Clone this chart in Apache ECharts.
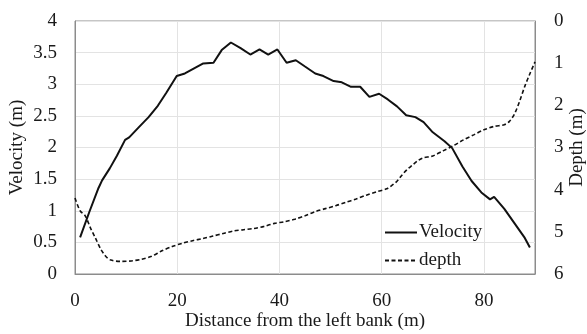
<!DOCTYPE html>
<html>
<head>
<meta charset="utf-8">
<script src="https://cdn.jsdelivr.net/npm/echarts@6/dist/echarts.min.js"></script>
<style>
  html, body { margin: 0; padding: 0; background: #fff; }
  #chart { width: 587px; height: 334px; }
</style>
</head>
<body>
<div id="chart"></div>
<script>
// Cross-section survey: surface velocity and water depth across the channel
const velocityDistance = [1.0, 2.8, 4.6, 5.3, 6.8, 8.2, 9.8, 10.6, 12.6, 14.4, 16.2, 17.9, 19.9, 21.5, 23.3, 25.1, 27.1, 28.7, 30.5, 32.4, 34.3, 36.1, 37.8, 39.6, 41.4, 43.2, 45.0, 47.0, 48.6, 50.6, 52.2, 54.0, 55.8, 57.6, 59.5, 61.2, 63.0, 64.8, 66.6, 68.2, 70.0, 72.3, 73.8, 75.8, 77.6, 79.5, 81.2, 82.0, 84.0, 86.0, 88.0, 89.0];
const velocity = [0.58, 0.98, 1.36, 1.48, 1.67, 1.87, 2.12, 2.16, 2.33, 2.48, 2.66, 2.87, 3.13, 3.17, 3.25, 3.33, 3.34, 3.54, 3.66, 3.57, 3.47, 3.55, 3.47, 3.55, 3.34, 3.38, 3.28, 3.17, 3.13, 3.05, 3.03, 2.96, 2.96, 2.80, 2.85, 2.76, 2.65, 2.51, 2.48, 2.40, 2.24, 2.10, 1.99, 1.70, 1.47, 1.29, 1.18, 1.22, 1.03, 0.80, 0.57, 0.42];

const depthDistance = [0, 1, 2, 3, 4, 5, 6, 7, 9, 11, 13, 15, 17, 19, 21, 23, 25, 27, 29, 31, 33, 35, 37, 39, 41, 43, 45, 47, 49, 51, 53, 55, 57, 59, 61, 62, 63, 64, 65, 66, 67, 68, 70, 72, 74, 76, 78, 80, 82, 84, 85, 86, 87, 88, 89, 90];
const depth = [4.20, 4.50, 4.62, 4.90, 5.15, 5.40, 5.58, 5.67, 5.70, 5.69, 5.65, 5.58, 5.45, 5.35, 5.27, 5.21, 5.16, 5.10, 5.04, 4.98, 4.95, 4.92, 4.87, 4.80, 4.76, 4.70, 4.62, 4.52, 4.45, 4.38, 4.30, 4.22, 4.13, 4.05, 3.98, 3.90, 3.80, 3.65, 3.52, 3.42, 3.32, 3.25, 3.20, 3.08, 2.96, 2.82, 2.70, 2.58, 2.50, 2.46, 2.38, 2.20, 1.90, 1.55, 1.25, 0.97];

const xTicks = [0, 20, 40, 60, 80];

const FONT = 'Liberation Serif';
const TXT = '#1a1a1a';

const pair = (xs, ys) => xs.map((x, i) => [x, ys[i]]);

const chart = echarts.init(document.getElementById('chart'), null, { renderer: 'canvas' });
chart.setOption({
  animation: false,
  backgroundColor: '#fff',
  textStyle: { fontFamily: FONT, color: TXT },
  grid: {
    left: 75, right: 52, top: 21, bottom: 60,
    containLabel: false, outerBoundsMode: 'none',
    show: true, borderColor: '#8c8c8c', borderWidth: 1
  },
  legend: {
    orient: 'vertical',
    left: 379, top: 218,
    itemWidth: 32, itemHeight: 12, itemGap: 9,
    itemStyle: { opacity: 0 },
    textStyle: { fontFamily: FONT, fontSize: 19, color: TXT, padding: [0, 0, 0, -3] },
    data: ['Velocity', 'depth']
  },
  xAxis: {
    type: 'value', min: 0, max: 90, interval: 20,
    name: 'Distance from the left bank (m)',
    nameLocation: 'middle', nameGap: 38, nameMoveOverlap: false,
    nameTextStyle: { fontFamily: FONT, fontSize: 19, color: TXT },
    axisLine: { show: true, lineStyle: { color: '#8c8c8c', width: 1 } },
    axisTick: { show: false },
    axisLabel: {
      fontFamily: FONT, fontSize: 19, color: TXT, margin: 18,
      formatter: v => (xTicks.indexOf(v) >= 0 ? String(v) : '')
    },
    splitLine: { show: true, lineStyle: { color: '#e3e3e3', width: 1 } }
  },
  yAxis: [
    {
      type: 'value', min: 0, max: 4, interval: 0.5,
      name: 'Velocity (m)', nameLocation: 'middle', nameGap: 48, nameRotate: 90,
      nameMoveOverlap: false,
      nameTextStyle: { fontFamily: FONT, fontSize: 19, color: TXT },
      axisLine: { show: true, lineStyle: { color: '#8c8c8c', width: 1 } },
      axisTick: { show: false },
      axisLabel: { fontFamily: FONT, fontSize: 19, color: TXT, margin: 18 },
      splitLine: { show: true, lineStyle: { color: '#e3e3e3', width: 1 } }
    },
    {
      type: 'value', min: 0, max: 6, interval: 1, inverse: true, position: 'right',
      name: 'Depth (m)', nameLocation: 'middle', nameGap: 33, nameRotate: 90,
      nameMoveOverlap: false,
      nameTextStyle: { fontFamily: FONT, fontSize: 19, color: TXT },
      axisLine: { show: true, lineStyle: { color: '#8c8c8c', width: 1 } },
      axisTick: { show: false },
      axisLabel: { fontFamily: FONT, fontSize: 19, color: TXT, margin: 19 },
      splitLine: { show: false }
    }
  ],
  series: [
    {
      name: 'Velocity', type: 'line', yAxisIndex: 0,
      data: pair(velocityDistance, velocity),
      symbol: 'none',
      lineStyle: { color: '#111', width: 2 },
      itemStyle: { color: '#111' }
    },
    {
      name: 'depth', type: 'line', yAxisIndex: 1,
      data: pair(depthDistance, depth),
      symbol: 'none', smooth: 0.3,
      lineStyle: { color: '#111', width: 1.6, type: [4, 2.5] },
      itemStyle: { color: '#111' }
    }
  ]
});
</script>
</body>
</html>
